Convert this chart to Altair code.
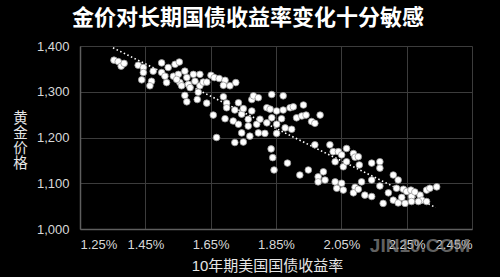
import altair as alt
import pandas as pd

# 10-year US Treasury yield (%) and gold price
yields = [
    1.354, 1.367, 1.376, 1.385, 1.428, 1.444, 1.444, 1.439, 1.469, 1.464,
    1.474, 1.500, 1.500, 1.510, 1.515, 1.520, 1.536, 1.541, 1.554, 1.551,
    1.556, 1.571, 1.577, 1.582, 1.587, 1.597, 1.602, 1.617, 1.617, 1.627,
    1.612, 1.571, 1.577, 1.609, 1.638, 1.561, 1.546,
    1.651, 1.661, 1.676, 1.694, 1.689, 1.709, 1.727, 1.638, 1.658, 1.689,
    1.699, 1.699, 1.694, 1.668, 1.724, 1.735, 1.719, 1.735, 1.745, 1.750,
    1.765, 1.776, 1.781, 1.796, 1.776, 1.765, 1.791, 1.796, 1.770, 1.745,
    1.724, 1.750, 1.822, 1.832, 1.837, 1.872, 1.822, 1.837, 1.852, 1.872,
    1.852, 1.852, 1.867, 1.878, 1.893, 1.903, 1.898, 1.913, 1.929, 1.816,
    1.801,
    1.934, 1.942, 1.959, 1.969, 1.985, 1.969, 2.015, 2.025, 2.041, 2.051,
    2.066, 2.031, 2.056, 2.066, 2.087, 2.092, 2.102, 2.105, 2.143, 2.168,
    2.168, 2.209, 2.224, 1.949, 1.923, 1.979, 1.995, 2.000, 1.979, 2.031,
    2.051, 2.092, 2.112, 2.143, 2.168,
    1.835, 1.840, 1.844, 1.885,
    2.036, 2.056, 2.087, 2.102, 2.122, 2.143, 2.194, 2.178, 2.209, 2.224,
    2.219, 2.240, 2.235, 2.250, 2.263, 2.265, 2.265, 2.291, 2.296, 2.311,
    2.321, 2.342, 2.311, 2.286, 2.245, 2.275,
]
prices = [
    1369, 1366, 1356, 1362, 1358, 1353, 1342, 1326, 1323, 1313,
    1345, 1363, 1342, 1334, 1320, 1353, 1334, 1360, 1365, 1338,
    1320, 1345, 1331, 1316, 1309, 1338, 1323, 1338, 1313, 1321,
    1299, 1292, 1278, 1283, 1275, 1313, 1327,
    1336, 1331, 1329, 1325, 1314, 1313, 1320, 1321, 1249, 1289,
    1275, 1265, 1241, 1200, 1260, 1276, 1236, 1229, 1251, 1263,
    1240, 1283, 1291, 1287, 1258, 1225, 1229, 1210, 1203, 1210,
    1189, 1190, 1265, 1262, 1294, 1291, 1232, 1243, 1258, 1260,
    1229, 1209, 1241, 1221, 1265, 1267, 1218, 1243, 1247, 1209,
    1240,
    1271, 1249, 1235, 1231, 1249, 1184, 1184, 1169, 1169, 1162,
    1176, 1147, 1136, 1147, 1165, 1157, 1158, 1140, 1144, 1147,
    1133, 1118, 1107, 1129, 1118, 1114, 1125, 1107, 1103, 1103,
    1100, 1091, 1103, 1107, 1094,
    1175, 1156, 1129, 1144,
    1089, 1085, 1079, 1087, 1074, 1071, 1079, 1056, 1063, 1057,
    1089, 1087, 1069, 1082, 1085, 1071, 1060, 1074, 1063, 1085,
    1089, 1092, 1060, 1060, 1056, 1081,
]

trend_x = [1.351, 2.339]
trend_y = [1396, 1047]

x_ticks = [1.25, 1.45, 1.65, 1.85, 2.05, 2.25, 2.45]
y_ticks = [1000, 1100, 1200, 1300, 1400]

pts = pd.DataFrame({"yield": yields, "price": prices})
trend = pd.DataFrame({"yield": trend_x, "price": trend_y})

FONT = "Liberation Sans, Noto Sans CJK SC"
GRID = "#3c3c3c"
DOMAIN = "#5e5e5e"
LABEL = "#d9d9d9"

xscale = alt.Scale(domain=[1.25, 2.45], nice=False, zero=False)
yscale = alt.Scale(domain=[1000, 1400], nice=False, zero=False)

xaxis = alt.Axis(
    values=x_ticks, format=".2f", labelExpr="datum.label + '%'",
    title="10年期美国国债收益率", titleFont=FONT, titleFontSize=15,
    titleColor="#e6e6e6", titleFontWeight="normal", titleX=187, titleY=36,
    titleBaseline="middle",
    labelFont=FONT, labelFontSize=13, labelColor=LABEL, labelPadding=9,
    ticks=False, grid=True, gridColor=GRID, gridWidth=1,
    domainColor=DOMAIN, domainWidth=1.5,
)
yaxis = alt.Axis(
    values=y_ticks, format=",d",
    title=["黄", "金", "价", "格"], titleFont="Noto Sans CJK SC",
    titleFontSize=14.5,
    titleColor="#e6e6e6", titleFontWeight="normal", titleAngle=0,
    titleX=-60, titleY=72, titleAlign="center", titleBaseline="middle",
    titleLineHeight=15,
    labelFont=FONT, labelFontSize=13, labelColor=LABEL, labelPadding=11,
    ticks=False, grid=True, gridColor=GRID, gridWidth=1,
    domainColor=DOMAIN, domainWidth=1.5,
)

points = alt.Chart(pts).mark_point(
    shape="circle", filled=True, fill="white", stroke="#9a9a9a",
    strokeWidth=0.8, size=44, opacity=1,
).encode(
    x=alt.X("yield:Q", scale=xscale, axis=xaxis),
    y=alt.Y("price:Q", scale=yscale, axis=yaxis),
)

line = alt.Chart(trend).mark_line(
    color="white", strokeWidth=1.6, strokeDash=[1.5, 2.5],
).encode(
    x=alt.X("yield:Q", scale=xscale),
    y=alt.Y("price:Q", scale=yscale),
)

watermark = alt.Chart(pd.DataFrame({"t": ["JIN10.COM"]})).mark_text(
    font=FONT, fontSize=19, fontWeight="bold", color="#8a8a8a", opacity=0.7,
    align="center", baseline="middle",
).encode(text="t:N", x=alt.value(340), y=alt.value(200))

chart = alt.layer(line, points, watermark).properties(
    width=392, height=183,
    background="black",
    padding={"left": 80, "top": 46, "right": 28, "bottom": 48},
    autosize=alt.AutoSizeParams(type="none"),
    title=alt.TitleParams(
        "金价对长期国债收益率变化十分敏感", font="Noto Sans CJK SC",
        fontSize=22, fontWeight="bold", color="white", anchor="middle",
        dx=-28, offset=10,
    ),
).configure_view(strokeWidth=0)

chart.save("out.html", embed_options={"renderer": "svg", "actions": False})
